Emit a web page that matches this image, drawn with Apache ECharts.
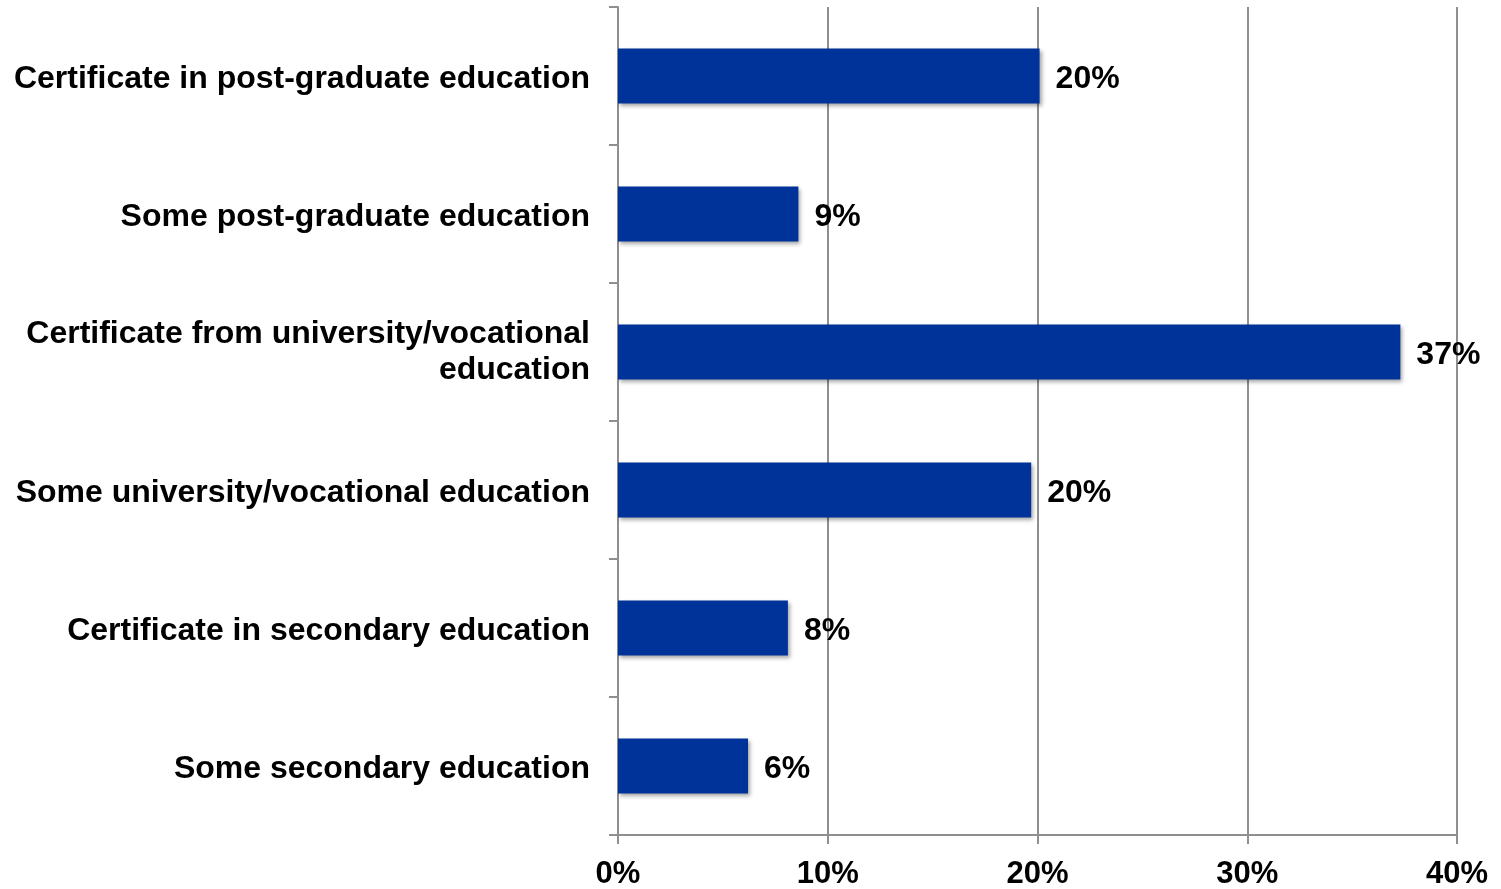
<!DOCTYPE html>
<html>
<head>
<meta charset="utf-8">
<script src="https://cdn.jsdelivr.net/npm/echarts@6/dist/echarts.min.js"></script>
<style>
html,body{margin:0;padding:0;background:#fff;}
#chart{width:1501px;height:889px;}
</style>
</head>
<body>
<div id="chart"></div>
<script>
const categories = [
  "Some secondary education",
  "Certificate in secondary education",
  "Some university/vocational education",
  "Certificate from university/vocational\neducation",
  "Some post-graduate education",
  "Certificate in post-graduate education"
];
const values = [6.2, 8.1, 19.7, 37.3, 8.6, 20.1];
const valueLabels = ["6%", "8%", "20%", "37%", "9%", "20%"];
const xTicks = [0, 10, 20, 30, 40];

const chart = echarts.init(document.getElementById('chart'));
const font = "'Liberation Sans', Arial, sans-serif";
const labelText = {color: '#000', fontFamily: font, fontWeight: 'bold', fontSize: 32, align: 'right'};
chart.setOption({
  animation: false,
  grid: {left: 618, right: 44, top: 7, bottom: 54, containLabel: false, outerBoundsMode: 'none'},
  xAxis: {
    type: 'value',
    min: xTicks[0], max: xTicks[xTicks.length - 1], interval: 10,
    axisLine: {show: true, lineStyle: {color: '#8f8f8f', width: 2}},
    axisTick: {show: true, length: 9, lineStyle: {color: '#8f8f8f', width: 2}},
    splitLine: {show: true, lineStyle: {color: '#8f8f8f', width: 2}},
    axisLabel: {
      formatter: v => v + '%', color: '#000', fontFamily: font,
      fontWeight: 'bold', fontSize: 31, margin: 24
    }
  },
  yAxis: {
    type: 'category',
    data: categories,
    axisLine: {show: true, lineStyle: {color: '#8f8f8f', width: 2}},
    axisTick: {show: true, length: 9, lineStyle: {color: '#8f8f8f', width: 2}},
    axisLabel: {
      margin: 28, align: 'right',
      formatter: v => {
        const lines = v.split('\n');
        const k = lines.length > 1 ? 'b' : 'a';
        return lines.map(l => '{' + k + '|' + l + '}').join('\n');
      },
      rich: {
        a: Object.assign({lineHeight: 30, padding: [6, 0, 0, 0]}, labelText),
        b: Object.assign({lineHeight: 36}, labelText)
      }
    }
  },
  series: [{
    type: 'bar',
    data: values,
    barWidth: 55,
    itemStyle: {
      color: '#003399',
      shadowColor: 'rgba(0,0,0,0.35)', shadowBlur: 4, shadowOffsetX: 2, shadowOffsetY: 2
    },
    label: {
      show: true, position: 'right', distance: 16, offset: [0, 3],
      formatter: p => valueLabels[p.dataIndex],
      color: '#000', fontFamily: font, fontWeight: 'bold', fontSize: 32
    }
  }]
});
</script>
</body>
</html>
